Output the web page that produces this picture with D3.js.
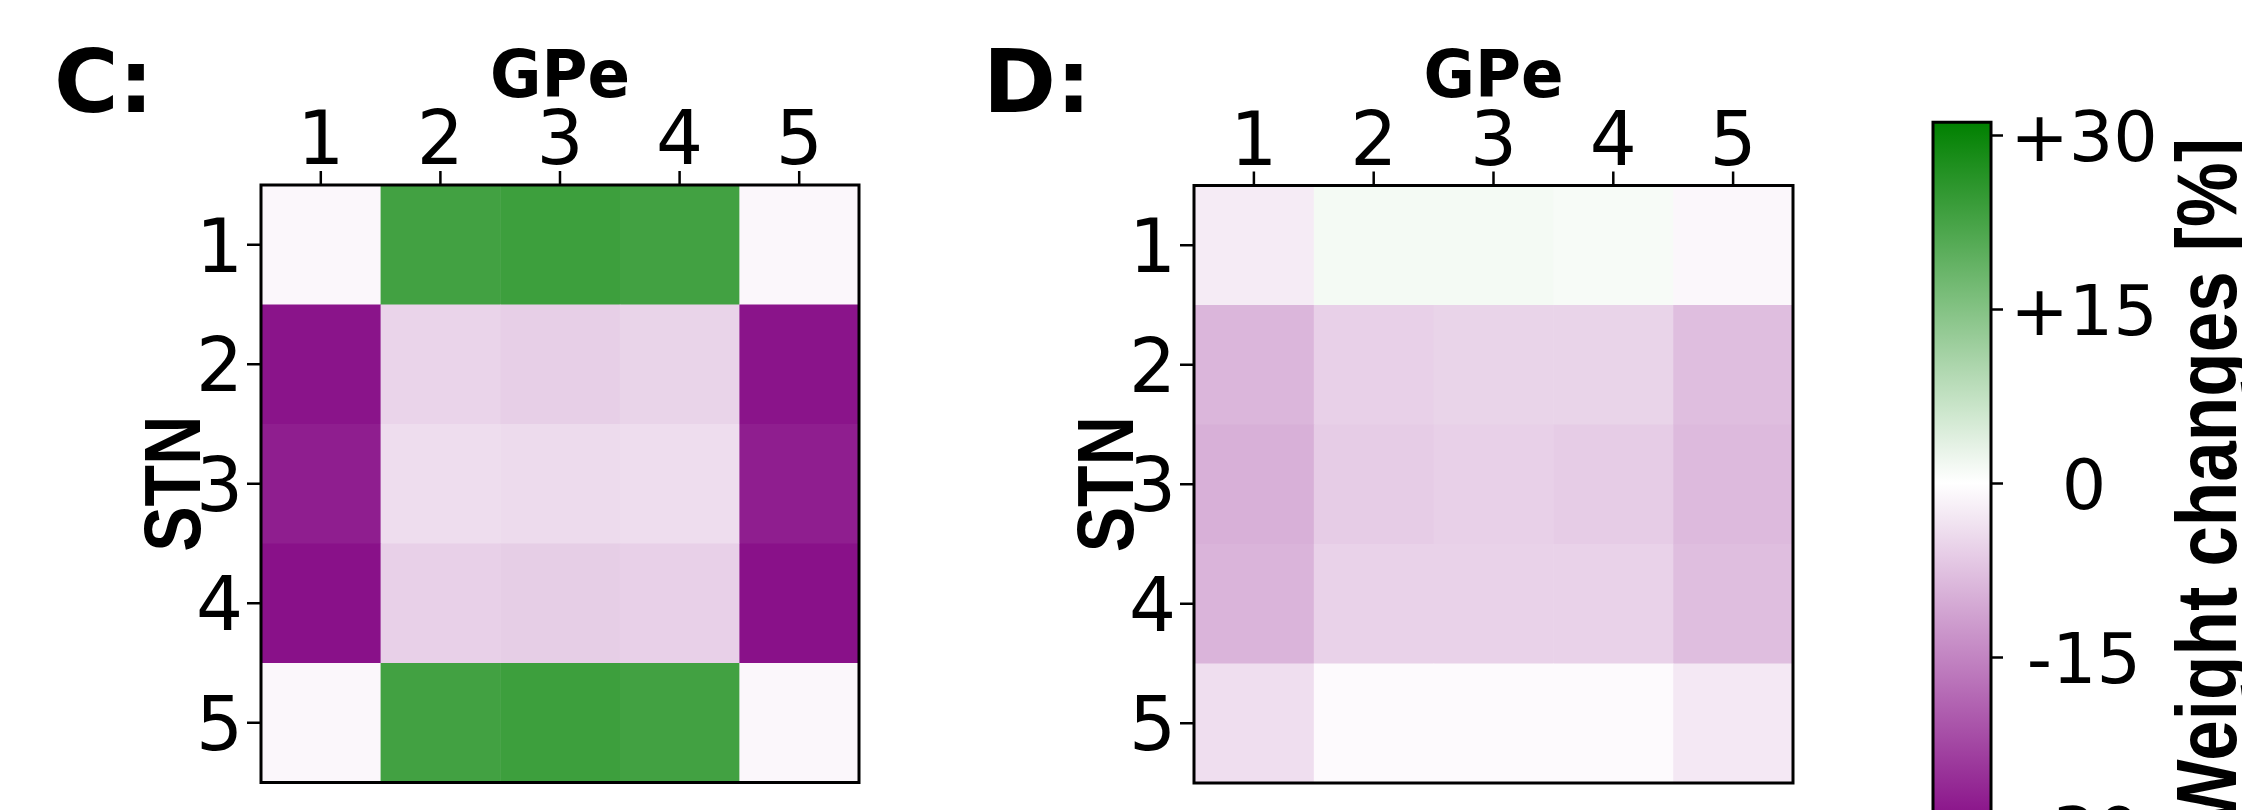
<!DOCTYPE html>
<html>
<head>
<meta charset="utf-8">
<script src="https://cdn.jsdelivr.net/npm/d3@7"></script>
<style>
  html, body { margin: 0; padding: 0; background: #ffffff; }
  svg { display: block; }
</style>
</head>
<body>
<svg id="chart" width="2242" height="810"></svg>
<script>
// ---- data ----
const gpeLabels = ["1", "2", "3", "4", "5"];
const stnLabels = ["1", "2", "3", "4", "5"];
// rows = STN 1..5, columns = GPe 1..5, weight changes in %
const weightsC = [
  [-1.0, 23.0, 23.6, 23.0, -1.0],
  [-28.6, -5.2, -5.8, -5.3, -28.6],
  [-27.4, -4.1, -4.4, -4.1, -27.4],
  [-29.0, -5.7, -6.0, -5.7, -29.0],
  [-1.0, 23.0, 23.6, 23.0, -1.0]
];
const weightsD = [
  [-2.5, 1.3, 1.3, 1.0, -1.0],
  [-8.9, -5.7, -5.3, -5.3, -7.9],
  [-9.6, -6.2, -5.7, -6.2, -8.4],
  [-9.1, -5.5, -5.5, -5.5, -7.9],
  [-4.0, -0.6, -0.6, -0.6, -2.8]
];
const cbTickValues = [30, 15, 0, -15, -30];
const cbTickLabels = ["+30", "+15", "0", "-15", "-30"];
const panelLetters = ["C:", "D:"];

// ---- styles / layout ----
const svg = d3.select("#chart");
const tickFont = "'DejaVu Sans', sans-serif";
const boldFont = "'DejaVu Sans', sans-serif";
const titleFont = "'Liberation Sans', Arial, sans-serif";
const vmax = 31.1;
const color = d3.scaleLinear()
  .domain([-vmax, 0, vmax])
  .range(["#800080", "#ffffff", "#008000"])
  .interpolate(d3.interpolateRgb);

const panels = [
  { data: weightsC, x0: 261, x1: 859, y0: 185, y1: 782.5, letterX: 54 },
  { data: weightsD, x0: 1194, x1: 1793, y0: 185.5, y1: 783, letterX: 983 }
];

panels.forEach((p, pi) => {
  const x = d3.scaleBand().domain(gpeLabels).range([p.x0, p.x1]).padding(0);
  const y = d3.scaleBand().domain(stnLabels).range([p.y0, p.y1]).padding(0);
  const g = svg.append("g");

  // cells
  const cells = [];
  p.data.forEach((row, ri) => row.forEach((v, ci) => cells.push({ r: stnLabels[ri], c: gpeLabels[ci], v })));
  g.selectAll("rect.cell").data(cells).enter().append("rect")
    .attr("class", "cell")
    .attr("x", d => x(d.c))
    .attr("y", d => y(d.r))
    .attr("width", x.bandwidth() + 0.5)
    .attr("height", y.bandwidth() + 0.5)
    .attr("fill", d => color(d.v));

  // top axis
  const ax = g.append("g").attr("transform", `translate(0,${p.y0})`)
    .call(d3.axisTop(x).tickSize(14).tickPadding(6));
  ax.select(".domain").remove();
  ax.selectAll(".tick line").attr("stroke", "#000").attr("stroke-width", 2.5);
  ax.selectAll(".tick text")
    .attr("font-family", tickFont).attr("font-size", 74).attr("fill", "#000")
    .attr("dy", 0).attr("y", -21);

  // left axis
  const ay = g.append("g").attr("transform", `translate(${p.x0},0)`)
    .call(d3.axisLeft(y).tickSize(14).tickPadding(4));
  ay.select(".domain").remove();
  ay.selectAll(".tick line").attr("stroke", "#000").attr("stroke-width", 2.5);
  ay.selectAll(".tick text")
    .attr("font-family", tickFont).attr("font-size", 74).attr("fill", "#000")
    .attr("dy", 0).attr("y", 27).attr("x", -18);

  // frame
  g.append("rect")
    .attr("x", p.x0).attr("y", p.y0)
    .attr("width", p.x1 - p.x0).attr("height", p.y1 - p.y0)
    .attr("fill", "none").attr("stroke", "#000").attr("stroke-width", 3);

  // axis titles
  g.append("text")
    .attr("x", (p.x0 + p.x1) / 2).attr("y", 97)
    .attr("text-anchor", "middle")
    .attr("font-family", boldFont).attr("font-weight", "bold").attr("font-size", 66)
    .attr("textLength", 140).attr("lengthAdjust", "spacingAndGlyphs")
    .text("GPe");
  const cy = (p.y0 + p.y1) / 2;
  g.append("text")
    .attr("transform", `translate(${p.x0 - 61},${cy}) rotate(-90)`)
    .attr("text-anchor", "middle")
    .attr("font-family", titleFont).attr("font-weight", "bold").attr("font-size", 80)
    .attr("textLength", 136).attr("lengthAdjust", "spacingAndGlyphs")
    .text("STN");

  // panel letter
  g.append("text")
    .attr("x", p.letterX).attr("y", 112)
    .attr("font-family", boldFont).attr("font-weight", "bold").attr("font-size", 88)
    .text(panelLetters[pi]);
});

// ---- colorbar ----
const cbX0 = 1933, cbX1 = 1991;
const cbScale = d3.scaleLinear().domain([-30, 30]).range([831, 135]);
const defs = svg.append("defs");
const grad = defs.append("linearGradient").attr("id", "cbgrad")
  .attr("x1", 0).attr("y1", 1).attr("x2", 0).attr("y2", 0);
const stops = d3.range(0, 1.0001, 0.05);
grad.selectAll("stop").data(stops).enter().append("stop")
  .attr("offset", d => d)
  .attr("stop-color", d => color(-vmax + d * 2 * vmax));

svg.append("rect")
  .attr("x", cbX0).attr("y", cbScale(vmax))
  .attr("width", cbX1 - cbX0).attr("height", cbScale(-vmax) - cbScale(vmax))
  .attr("fill", "url(#cbgrad)")
  .attr("stroke", "#000").attr("stroke-width", 3);

const cbAxis = svg.append("g").attr("transform", `translate(${cbX1},0)`)
  .call(d3.axisRight(cbScale).tickValues(cbTickValues).tickSize(12)
    .tickFormat((d, i) => cbTickLabels[i]));
cbAxis.select(".domain").remove();
cbAxis.selectAll(".tick line").attr("stroke", "#000").attr("stroke-width", 2.5);
cbAxis.selectAll(".tick text")
  .attr("font-family", tickFont).attr("font-size", 70).attr("fill", "#000")
  .attr("text-anchor", "middle").attr("x", 93).attr("dy", 0).attr("y", 25);

svg.append("text")
  .attr("transform", `translate(2236,${cbScale(0)}) rotate(-90)`)
  .attr("text-anchor", "middle")
  .attr("font-family", "'Liberation Sans Narrow', 'Liberation Sans', sans-serif")
  .attr("font-weight", "bold").attr("font-size", 86)
  .attr("textLength", 690).attr("lengthAdjust", "spacingAndGlyphs")
  .text("Weight changes [%]");
</script>
</body>
</html>
